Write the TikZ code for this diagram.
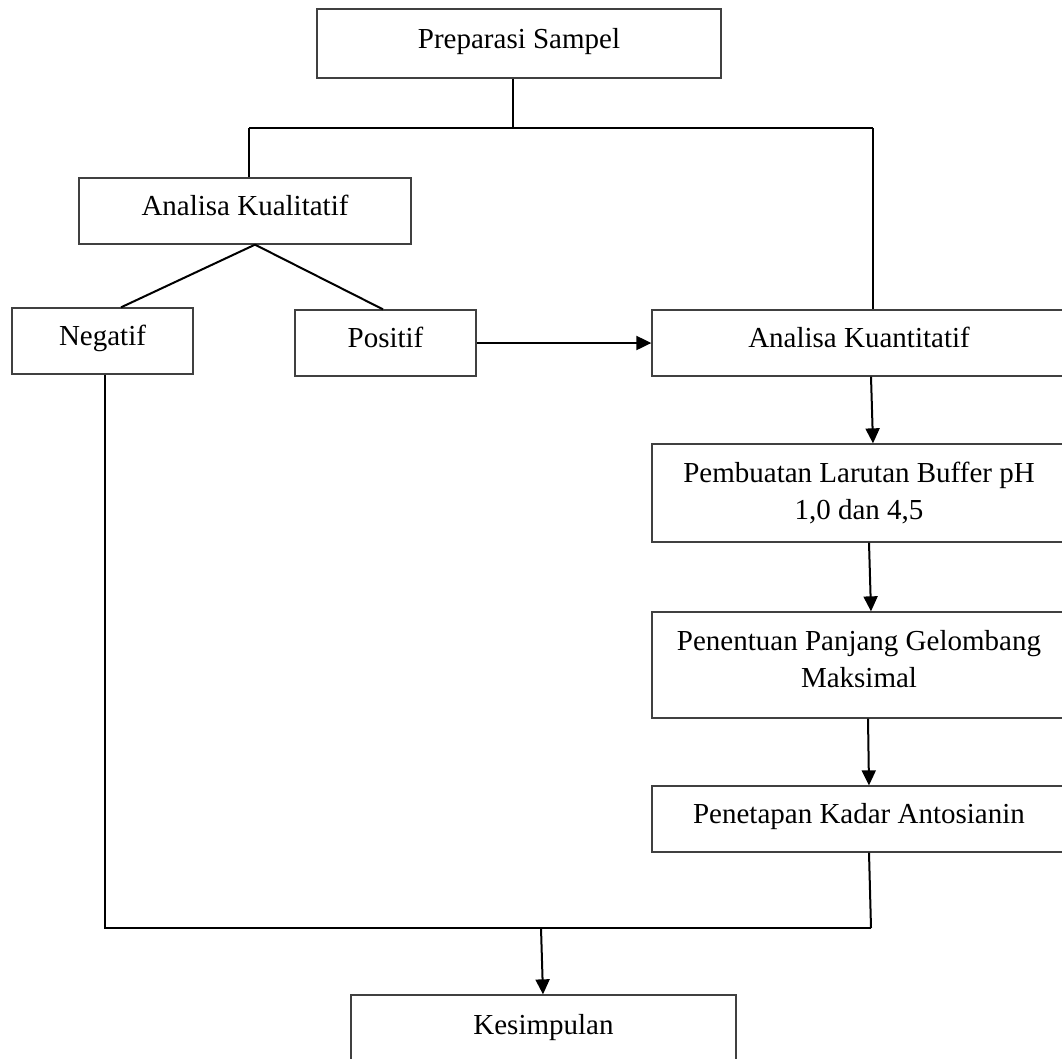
\documentclass[tikz,border=0pt]{standalone}
\usepackage{fontspec}
\setmainfont{Liberation Serif}
\usetikzlibrary{arrows.meta}
\begin{document}
\begin{tikzpicture}[x=1pt,y=-1pt,
  box/.style={draw=black!75, line width=1.3pt, rectangle, inner sep=0pt, fill=none},
  txt/.style={anchor=base, inner sep=0pt, font=\fontsize{29}{37}\selectfont},
  conn/.style={draw=black, line width=2pt},
  arr/.style={conn, -{Triangle[length=15pt,width=14pt]}}]
\useasboundingbox (0,0) rectangle (1062,1058);
\clip (0,0) rectangle (1062,1058);
\fill[white] (0,0) rectangle (1062,1058);
% boxes
\node[box, minimum width=404pt, minimum height=69pt] (prep) at (519,43.5) {};
\node[box, minimum width=332pt, minimum height=66pt] (kual) at (245,211) {};
\node[box, minimum width=181pt, minimum height=66pt] (neg) at (102.5,341) {};
\node[box, minimum width=181pt, minimum height=66pt] (pos) at (385.5,343) {};
\node[box, minimum width=414pt, minimum height=66pt] (kuan) at (859,343) {};
\node[box, minimum width=414pt, minimum height=98pt] (buf) at (859,493) {};
\node[box, minimum width=414pt, minimum height=106pt] (gel) at (859,665) {};
\node[box, minimum width=414pt, minimum height=66pt] (ant) at (859,819) {};
\node[box, minimum width=385pt, minimum height=66pt] (kes) at (543.5,1028) {};
% texts
\node[txt] (prepT) at (519,48) {Preparasi Sampel};
\node[txt] (kualT) at (245,215) {Analisa Kualitatif};
\node[txt] (negT) at (102.5,345) {Negatif};
\node[txt] (posT) at (385.5,347) {Positif};
\node[txt] (kuanT) at (859,347) {Analisa Kuantitatif};
\node[txt] (bufT1) at (859,482) {Pembuatan Larutan Buffer pH};
\node[txt] (bufT2) at (859,519) {1,0 dan 4,5};
\node[txt] (gelT1) at (859,650) {Penentuan Panjang Gelombang};
\node[txt] (gelT2) at (859,687) {Maksimal};
\node[txt] (antT) at (859,823) {Penetapan Kadar Antosianin};
\node[txt] (kesT) at (543.5,1034) {Kesimpulan};
% junctions
\coordinate (j1) at (513,128);
\coordinate (jl) at (249,128);
\coordinate (jr) at (873,128);
\coordinate (jb1) at (105,928);
\coordinate (jb2) at (871,928);
\coordinate (jm) at (541,928);
% connectors
\draw[conn] ([xshift=-6pt]prep.south) -- (j1);
\draw[conn] (jl) -- (jr);
\draw[conn] (jl) -- (kual.north -| jl);
\draw[conn] (jr) -- (kuan.north -| jr);
\draw[conn] ([xshift=10pt]kual.south) -- ([xshift=18.5pt]neg.north);
\draw[conn] ([xshift=10pt]kual.south) -- ([xshift=-2.5pt]pos.north);
\draw[arr] (pos.east) -- (pos.east -| kuan.west);
\draw[arr] ([xshift=12pt]kuan.south) -- ([xshift=14pt]buf.north);
\draw[arr] ([xshift=10pt]buf.south) -- ([xshift=12pt]gel.north);
\draw[arr] ([xshift=9pt]gel.south) -- ([xshift=10pt]ant.north);
\draw[conn] ([xshift=10pt]ant.south) -- (jb2);
\draw[conn] ([xshift=2.5pt]neg.south) -- (jb1) -- (jb2);
\draw[arr] (jm) -- ([xshift=-0.5pt]kes.north);
\end{tikzpicture}
\end{document}
